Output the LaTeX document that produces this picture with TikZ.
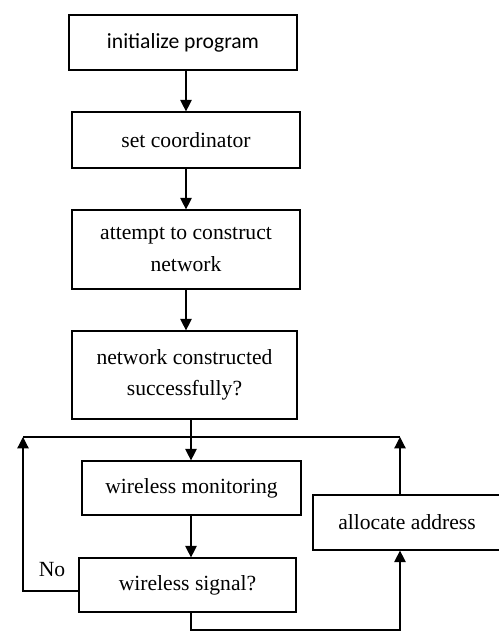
\documentclass[tikz,border=0pt]{standalone}
\usepackage{fontspec}
\setmainfont{Liberation Serif}
\newfontfamily\timesfont{Liberation Serif}
\newfontfamily\calibrifont{Carlito}
\usetikzlibrary{arrows.meta}
\tikzset{flowbox/.style = {draw,line width=0.7pt,inner sep=0pt,align=center,
    font=\timesfont\fontsize{12.3}{18}\selectfont}}
\tikzset{flowline/.style = {line width=0.7pt}}
\tikzset{flowarrow/.style = {flowline,-{Triangle[width=6.5pt,length=6.5pt]}}}

\begin{document}
\begin{tikzpicture}[x=0.02cm,y=-0.02cm]
\useasboundingbox (0,0) rectangle (499,632);
\node[flowbox,minimum width=4.56cm,minimum height=1.1cm,
  font=\calibrifont\fontsize{12.3}{18}\selectfont] (init) at (183,42.5) {initialize program};
\node[flowbox,minimum width=4.56cm,minimum height=1.12cm] (setco) at (186,140) {set coordinator};
\node[flowbox,minimum width=4.56cm,minimum height=1.58cm] (attempt) at (186,249.5) {attempt to construct\\network};
\node[flowbox,minimum width=4.5cm,minimum height=1.76cm] (check) at (184.5,375) {network constructed\\successfully?};
\node[flowbox,minimum width=4.38cm,minimum height=1.08cm] (monitor) at (191.5,488) {wireless monitoring};
\node[flowbox,minimum width=4.34cm,minimum height=1.08cm] (signal) at (187.5,585) {wireless signal?};
\node[flowbox,minimum width=3.76cm,minimum height=1.1cm] (alloc) at (407,522.5) {allocate address};
\node[font=\timesfont\fontsize{12.3}{18}\selectfont] (no) at (52,570) {No};

\coordinate (loopl) at (23,437);
\coordinate (loopr) at (400,437);
\coordinate (bottoml) at (191,630);
\coordinate (bottomr) at (400,630);

\draw[flowarrow] (setco.north |- init.south) -- (setco.north);
\draw[flowarrow] (setco.south) -- (attempt.north);
\draw[flowarrow] (attempt.south) -- (attempt.south |- check.north);
\draw[flowarrow] (bottoml |- check.south) -- (bottoml |- monitor.north);
\draw[flowarrow] (bottoml |- monitor.south) -- (bottoml |- signal.north);
% loop back to monitoring
\draw[flowarrow] ([yshift=-0.12cm]signal.west) -- ([yshift=-0.12cm]signal.west -| loopl) -- (loopl);
\draw[flowline] (loopl) -- (loopr);
\draw[flowarrow] (alloc.north -| loopr) -- (loopr);
\draw[flowarrow] (signal.south -| bottoml) -- (bottoml) -- (bottomr) -- (alloc.south -| bottomr);
\end{tikzpicture}
\end{document}
